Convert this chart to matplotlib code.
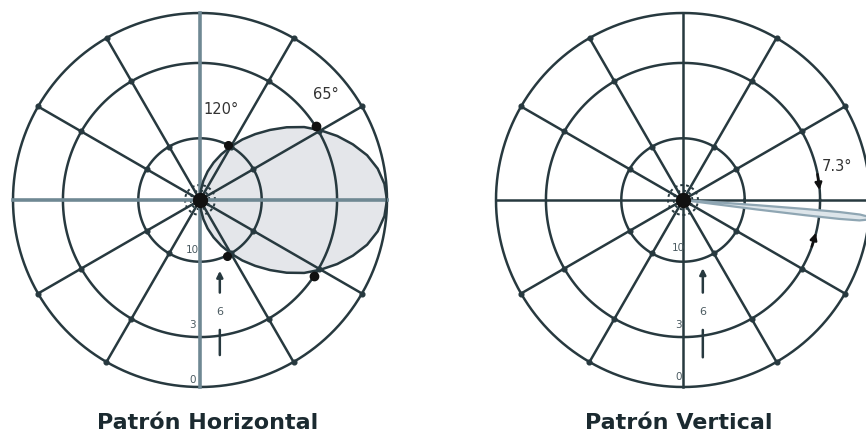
#!/usr/bin/env python3
"""
Horizontal and vertical radiation patterns of a sector antenna.
"""

import numpy as np
import matplotlib.pyplot as plt

# dB rings (0 dB on the outside) and their plotted radius
RING_LABELS = ['0', '3', '10']
RING_RADII = [1.0, 0.733, 0.33]
# tiny rings around the feed point
CORE_RADII = [0.08, 0.05]

SPOKE_ANGLES = [30, 60, 120, 150, 210, 240, 300, 330]
AXIS_ANGLES = [0, 90, 180, 270]

# horizontal pattern (azimuth, deg) -> plotted radius
H_LOBE_ANGLES = [-90, -85, -80, -75, -70, -65, -60, -55, -50, -45, -40, -35, -30,
                 -25, -20, -15, -10, -5, 0, 5, 10, 15, 20, 25, 30, 35, 40, 45,
                 50, 55, 60, 65, 70, 75, 80, 85, 90]
H_LOBE_RADII = [0.0, 0.052, 0.104, 0.158, 0.213, 0.27, 0.33, 0.395, 0.46, 0.53,
                0.605, 0.68, 0.745, 0.81, 0.87, 0.925, 0.965, 0.99, 1.0, 0.99,
                0.965, 0.925, 0.87, 0.81, 0.745, 0.68, 0.605, 0.53, 0.46, 0.395,
                0.33, 0.27, 0.213, 0.158, 0.104, 0.052, 0.0]
H_BEAM_3DB = [32.5, -33.5]     # 65 deg beamwidth on the 3 dB ring
H_BEAM_10DB = [63, -64.5]      # 120 deg beamwidth on the 10 dB ring

# vertical pattern (elevation, deg, with electrical downtilt)
V_LOBE_ANGLES = [-7.6, -7.3, -7.1, -6.9, -6.6, -6.1, -5.6, -5.1, -4.7, -4.4,
                 -4.2, -4.0, -3.7]
V_LOBE_RADII = [0.04, 0.4, 0.66, 0.84, 0.95, 0.99, 1.0, 0.99, 0.95, 0.84,
                0.66, 0.4, 0.04]
V_BEAM_EDGES = [3, -12.7]

DARK = '#27393f'
LIGHT_AXIS = '#6f8893'
LABEL = '#4b5b61'
LW = 1.8


def draw_grid(ax, axis_color, axis_lw):
    full = np.linspace(0, 2 * np.pi, 361)
    for r in RING_RADII:
        ax.plot(full, np.full_like(full, r), color=DARK, lw=LW, zorder=3, clip_on=False)
    for r in CORE_RADII:
        ax.plot(full, np.full_like(full, r), color=DARK, lw=1.4, ls=(0, (1.5, 1.5)), zorder=3)
    for a in SPOKE_ANGLES:
        t = np.radians(a)
        ax.plot([t, t], [0, 1], color=DARK, lw=LW, zorder=3, clip_on=False)
        # dark spots where the spokes cross the rings
        ax.plot([t] * len(RING_RADII), RING_RADII, 'o', color=DARK, ms=3.4, zorder=4, clip_on=False)
    for a in AXIS_ANGLES:
        t = np.radians(a)
        ax.plot([t, t], [0, 1], color=axis_color, lw=axis_lw, zorder=3, clip_on=False)
    ax.plot([0], [0], 'o', color='#111111', ms=10, zorder=5)

    ax.set_ylim(0, 1)
    ax.set_xticks([])
    ax.set_yticks([])
    ax.grid(False)
    ax.spines['polar'].set_visible(False)
    ax.set_facecolor('none')


def draw_db_labels(ax, fx, ys, arrow_x, arrow_ys):
    for lab, fy in zip(RING_LABELS, ys):
        ax.text(fx, fy, lab, transform=ax.transAxes, fontsize=7.5, color=LABEL,
                ha='center', va='center', zorder=6)
    tip, gap_top, mid, gap_bot, end = arrow_ys
    ax.annotate('', xy=(arrow_x, tip), xytext=(arrow_x, gap_top), xycoords='axes fraction',
                arrowprops=dict(arrowstyle='-|>', color=DARK, lw=LW, mutation_scale=9),
                zorder=6)
    ax.annotate('', xy=(arrow_x, gap_bot), xytext=(arrow_x, end), xycoords='axes fraction',
                arrowprops=dict(arrowstyle='-', color=DARK, lw=LW), zorder=6)
    ax.text(arrow_x, mid, '6', transform=ax.transAxes, fontsize=8, color=LABEL,
            ha='center', va='center', zorder=6)


def main():
    fig = plt.figure(figsize=(8.66, 4.36), dpi=100)
    fig.patch.set_facecolor('white')

    # --- horizontal pattern
    ax_h = fig.add_axes([13 / 866, 49 / 436, 374 / 866, 374 / 436], projection='polar')
    ax_h.fill(np.radians(H_LOBE_ANGLES), H_LOBE_RADII, color='#e4e6ea', zorder=1)
    draw_grid(ax_h, LIGHT_AXIS, 2.6)
    ax_h.plot(np.radians(H_LOBE_ANGLES), H_LOBE_RADII, color=DARK, lw=LW, zorder=4)
    ax_h.plot(np.radians(H_BEAM_3DB), [RING_RADII[1]] * 2, 'o', color='#111111', ms=6, zorder=5)
    ax_h.plot(np.radians(H_BEAM_10DB), [RING_RADII[2]] * 2, 'o', color='#111111', ms=5.5, zorder=5)
    ax_h.text(0.555, 0.743, '120°', transform=ax_h.transAxes, fontsize=10.5,
              color='#333333', ha='center', va='center', zorder=6)
    ax_h.text(0.836, 0.783, '65°', transform=ax_h.transAxes, fontsize=10.5,
              color='#333333', ha='center', va='center', zorder=6)
    draw_db_labels(ax_h, 0.479, [0.019, 0.166, 0.366], 0.553,
                   [0.318, 0.245, 0.2, 0.16, 0.078])

    # --- vertical pattern
    ax_v = fig.add_axes([496 / 866, 49 / 436, 374 / 866, 374 / 436], projection='polar')
    ax_v.fill(np.radians(V_LOBE_ANGLES), V_LOBE_RADII, facecolor='#dde5ea',
              edgecolor='#8fa6b3', lw=1.6, zorder=4, clip_on=False)
    draw_grid(ax_v, DARK, LW)
    for edge, start in zip(V_BEAM_EDGES, [12, -21]):
        ax_v.annotate('', xy=(np.radians(edge), RING_RADII[1]),
                      xytext=(np.radians(start), RING_RADII[1]),
                      arrowprops=dict(arrowstyle='-|>', color='#111111', lw=1.8,
                                      mutation_scale=10), zorder=6)
    ax_v.text(0.912, 0.59, '7.3°', transform=ax_v.transAxes, fontsize=10.5,
              color='#333333', ha='center', va='center', zorder=6)
    draw_db_labels(ax_v, 0.487, [0.027, 0.166, 0.372], 0.553,
                   [0.325, 0.245, 0.2, 0.16, 0.072])

    fig.text(0.240, 0.03, 'Patrón Horizontal', ha='center', va='center',
             fontsize=16, fontweight='bold', color='#1b2a30')
    fig.text(0.784, 0.03, 'Patrón Vertical', ha='center', va='center',
             fontsize=16, fontweight='bold', color='#1b2a30')

    fig.savefig('out.png', dpi=100)
    plt.close(fig)


if __name__ == "__main__":
    main()
